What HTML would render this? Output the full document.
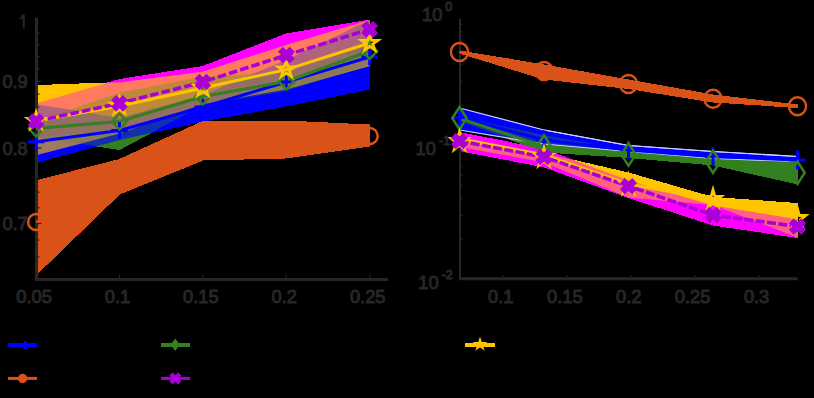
<!DOCTYPE html><html><head><meta charset="utf-8"><style>
html,body{margin:0;padding:0;background:#000;width:814px;height:398px;overflow:hidden}
svg{display:block}
text{font-family:"Liberation Sans",sans-serif;fill:#262626;stroke:#262626;stroke-width:1px;-webkit-font-smoothing:antialiased}
</style></head><body>
<svg width="814" height="398" viewBox="0 0 814 398">
<defs><filter id="op" x="0" y="0" width="814" height="398" filterUnits="userSpaceOnUse" color-interpolation-filters="sRGB">
<feColorMatrix type="matrix" values="1 0 0 0 0 0 1 0 0 0 0 0 1 0 0 0 0 0 255 0"/></filter></defs>
<rect width="814" height="398" fill="#000"/>

<g filter="url(#op)">
<polygon points="37.8,180.5 119.5,159.5 202.9,121.5 286.3,121.0 369.7,125.0 369.7,146.0 286.3,158.0 202.9,160.0 119.5,194.0 37.8,273.0" fill="#d95319" fill-opacity="1" />
<polygon points="37.8,103.0 119.5,79.5 202.9,66.5 286.3,34.0 369.7,20.0 369.7,50.0 286.3,80.0 202.9,109.0 119.5,130.0 37.8,137.0" fill="#ff00ff" fill-opacity="0.4" />
<polygon points="37.8,120.4 119.5,92.8 202.9,76.6 286.3,72.0 369.7,45.0 369.7,64.0 286.3,91.0 202.9,105.0 119.5,149.5 37.8,137.6" fill="#328020" fill-opacity="0.4" />
<polygon points="37.8,104.5 119.5,118.0 202.9,95.0 286.3,60.0 369.7,20.0 369.7,89.0 286.3,106.0 202.9,121.0 119.5,140.0 37.8,161.7" fill="#0000ff" fill-opacity="0.4" />
<polygon points="37.8,85.5 119.5,82.5 202.9,71.8 286.3,45.0 369.7,20.0 369.7,66.0 286.3,89.5 202.9,104.0 119.5,133.4 37.8,154.7" fill="#ffc400" fill-opacity="0.4" />
</g>
<path d="M36.5,17.7V279.5H388" fill="none" stroke="#262626" stroke-width="3"/>
<line x1="37" y1="274.4" x2="39.5" y2="274.4" stroke="#262626" stroke-width="1.2"/>
<line x1="37" y1="257.0" x2="39.5" y2="257.0" stroke="#262626" stroke-width="1.2"/>
<line x1="37" y1="240.1" x2="39.5" y2="240.1" stroke="#262626" stroke-width="1.2"/>
<line x1="37" y1="207.7" x2="39.5" y2="207.7" stroke="#262626" stroke-width="1.2"/>
<line x1="37" y1="192.2" x2="39.5" y2="192.2" stroke="#262626" stroke-width="1.2"/>
<line x1="37" y1="177.0" x2="39.5" y2="177.0" stroke="#262626" stroke-width="1.2"/>
<line x1="37" y1="162.3" x2="39.5" y2="162.3" stroke="#262626" stroke-width="1.2"/>
<line x1="37" y1="134.0" x2="39.5" y2="134.0" stroke="#262626" stroke-width="1.2"/>
<line x1="37" y1="120.3" x2="39.5" y2="120.3" stroke="#262626" stroke-width="1.2"/>
<line x1="37" y1="107.0" x2="39.5" y2="107.0" stroke="#262626" stroke-width="1.2"/>
<line x1="37" y1="94.0" x2="39.5" y2="94.0" stroke="#262626" stroke-width="1.2"/>
<line x1="37" y1="68.8" x2="39.5" y2="68.8" stroke="#262626" stroke-width="1.2"/>
<line x1="37" y1="56.6" x2="39.5" y2="56.6" stroke="#262626" stroke-width="1.2"/>
<line x1="37" y1="44.6" x2="39.5" y2="44.6" stroke="#262626" stroke-width="1.2"/>
<line x1="37" y1="32.9" x2="39.5" y2="32.9" stroke="#262626" stroke-width="1.2"/>
<line x1="37" y1="223.6" x2="41.5" y2="223.6" stroke="#262626" stroke-width="1.2"/>
<line x1="37" y1="148.0" x2="41.5" y2="148.0" stroke="#262626" stroke-width="1.2"/>
<line x1="37" y1="81.2" x2="41.5" y2="81.2" stroke="#262626" stroke-width="1.2"/>
<line x1="119.5" y1="278.5" x2="119.5" y2="275" stroke="#262626" stroke-width="1.2"/>
<line x1="202.9" y1="278.5" x2="202.9" y2="275" stroke="#262626" stroke-width="1.2"/>
<line x1="286.3" y1="278.5" x2="286.3" y2="275" stroke="#262626" stroke-width="1.2"/>
<line x1="369.7" y1="278.5" x2="369.7" y2="275" stroke="#262626" stroke-width="1.2"/>
<path d="M23.7,14.6V28.6M20.2,18.6C21.8,18.2 22.9,17 23.1,14.8" fill="none" stroke="#262626" stroke-width="2.1"/>
<text x="27.8" y="87.8" font-size="18.3" text-anchor="end">0.9</text>
<text x="27.8" y="154.6" font-size="18.3" text-anchor="end">0.8</text>
<text x="27.8" y="230.2" font-size="18.3" text-anchor="end">0.7</text>
<text x="34.1" y="303.3" font-size="18.3" text-anchor="middle">0.05</text>
<text x="117.5" y="303.3" font-size="18.3" text-anchor="middle">0.1</text>
<text x="200.9" y="303.3" font-size="18.3" text-anchor="middle">0.15</text>
<text x="284.3" y="303.3" font-size="18.3" text-anchor="middle">0.2</text>
<text x="367.7" y="303.3" font-size="18.3" text-anchor="middle">0.25</text>
<polyline points="36.1,222.0 119.5,177.0 202.9,141.0 286.3,140.0 369.7,136.0" fill="none" stroke="#d95319" stroke-width="2.5" stroke-linejoin="round"/>
<ellipse cx="36.1" cy="222.0" rx="8" ry="8" fill="none" stroke="#d95319" stroke-width="2.5"/>
<ellipse cx="119.5" cy="177.0" rx="8" ry="8" fill="none" stroke="#d95319" stroke-width="2.5"/>
<ellipse cx="202.9" cy="141.0" rx="8" ry="8" fill="none" stroke="#d95319" stroke-width="2.5"/>
<ellipse cx="286.3" cy="140.0" rx="8" ry="8" fill="none" stroke="#d95319" stroke-width="2.5"/>
<ellipse cx="369.7" cy="136.0" rx="8" ry="8" fill="none" stroke="#d95319" stroke-width="2.5"/>
<polyline points="36.1,141.8 119.5,130.5 202.9,107.0 286.3,82.0 369.7,57.0" fill="none" stroke="#0000ff" stroke-width="3" stroke-linejoin="round"/>
<polyline points="36.1,128.5 119.5,121.5 202.9,96.5 286.3,81.5 369.7,51.0" fill="none" stroke="#328020" stroke-width="3" stroke-linejoin="round"/>
<polyline points="36.1,121.0 119.5,106.0 202.9,88.0 286.3,69.6 369.7,43.0" fill="none" stroke="#ffc400" stroke-width="3" stroke-linejoin="round"/>
<polyline points="36.1,121.3 119.5,103.3 202.9,82.0 286.3,55.1 369.7,29.3" fill="none" stroke="#aa00d6" stroke-width="3.6" stroke-linejoin="round" stroke-dasharray="8.6,3.1"/>
<rect x="27.8" y="140.3" width="16.6" height="3.0" fill="#0000ff"/><rect x="34.6" y="133.5" width="3.0" height="16.6" fill="#0000ff"/>
<rect x="111.2" y="129.0" width="16.6" height="3.0" fill="#0000ff"/><rect x="118.0" y="122.2" width="3.0" height="16.6" fill="#0000ff"/>
<rect x="194.6" y="105.5" width="16.6" height="3.0" fill="#0000ff"/><rect x="201.4" y="98.7" width="3.0" height="16.6" fill="#0000ff"/>
<rect x="278.0" y="80.5" width="16.6" height="3.0" fill="#0000ff"/><rect x="284.8" y="73.7" width="3.0" height="16.6" fill="#0000ff"/>
<rect x="361.4" y="55.5" width="16.6" height="3.0" fill="#0000ff"/><rect x="368.2" y="48.7" width="3.0" height="16.6" fill="#0000ff"/>
<polygon points="36.1,120.5 43.5,128.5 36.1,136.5 28.7,128.5" fill="none" stroke="#328020" stroke-width="2.5"/>
<polygon points="119.5,113.5 126.9,121.5 119.5,129.5 112.1,121.5" fill="none" stroke="#328020" stroke-width="2.5"/>
<polygon points="202.9,88.5 210.3,96.5 202.9,104.5 195.5,96.5" fill="none" stroke="#328020" stroke-width="2.5"/>
<polygon points="286.3,73.5 293.7,81.5 286.3,89.5 278.9,81.5" fill="none" stroke="#328020" stroke-width="2.5"/>
<polygon points="369.7,43.0 377.1,51.0 369.7,59.0 362.3,51.0" fill="none" stroke="#328020" stroke-width="2.5"/>
<polygon points="36.1,112.4 38.0,118.3 44.3,118.3 39.2,122.0 41.2,128.0 36.1,124.3 31.0,128.0 33.0,122.0 27.9,118.3 34.2,118.3" fill="none" stroke="#ffc400" stroke-width="2.8" stroke-linejoin="miter"/>
<polygon points="119.5,97.4 121.4,103.3 127.7,103.3 122.6,107.0 124.6,113.0 119.5,109.3 114.4,113.0 116.4,107.0 111.3,103.3 117.6,103.3" fill="none" stroke="#ffc400" stroke-width="2.8" stroke-linejoin="miter"/>
<polygon points="202.9,79.4 204.8,85.3 211.1,85.3 206.0,89.0 208.0,95.0 202.9,91.3 197.8,95.0 199.8,89.0 194.7,85.3 201.0,85.3" fill="none" stroke="#ffc400" stroke-width="2.8" stroke-linejoin="miter"/>
<polygon points="286.3,61.0 288.2,66.9 294.5,66.9 289.4,70.6 291.4,76.6 286.3,72.9 281.2,76.6 283.2,70.6 278.1,66.9 284.4,66.9" fill="none" stroke="#ffc400" stroke-width="2.8" stroke-linejoin="miter"/>
<polygon points="369.7,34.4 371.6,40.3 377.9,40.3 372.8,44.0 374.8,50.0 369.7,46.3 364.6,50.0 366.6,44.0 361.5,40.3 367.8,40.3" fill="none" stroke="#ffc400" stroke-width="2.8" stroke-linejoin="miter"/>
<path d="M32.7,117.9L39.5,124.7M39.5,117.9L32.7,124.7" stroke="#aa00d6" stroke-width="7" stroke-linecap="square"/>
<path d="M116.1,99.9L122.9,106.7M122.9,99.9L116.1,106.7" stroke="#aa00d6" stroke-width="7" stroke-linecap="square"/>
<path d="M199.5,78.6L206.3,85.4M206.3,78.6L199.5,85.4" stroke="#aa00d6" stroke-width="7" stroke-linecap="square"/>
<path d="M282.9,51.7L289.7,58.5M289.7,51.7L282.9,58.5" stroke="#aa00d6" stroke-width="7" stroke-linecap="square"/>
<path d="M366.3,25.9L373.1,32.7M373.1,25.9L366.3,32.7" stroke="#aa00d6" stroke-width="7" stroke-linecap="square"/>
<g filter="url(#op)">
<polygon points="459.5,51.0 544.0,65.0 628.5,80.0 713.0,95.0 797.5,105.0 797.5,107.5 713.0,102.0 628.5,88.5 544.0,79.0 459.5,53.0" fill="#d95319" fill-opacity="1" />
<polygon points="459.5,132.4 544.0,149.4 628.5,180.5 713.0,205.5 797.5,219.5 797.5,237.5 713.0,225.0 628.5,197.5 544.0,166.8 459.5,150.6" fill="#ff00ff" fill-opacity="0.4" />
<polygon points="459.5,117.0 544.0,135.0 628.5,150.6 713.0,157.0 797.5,161.4 797.5,184.0 713.0,165.0 628.5,157.5 544.0,152.0 459.5,121.0" fill="#328020" fill-opacity="0.4" />
<polygon points="459.5,108.0 544.0,130.0 628.5,145.5 713.0,151.5 797.5,156.5 797.5,161.5 713.0,158.5 628.5,151.5 544.0,144.0 459.5,130.0" fill="#0000ff" fill-opacity="0.4" />
<polygon points="459.5,136.7 544.0,153.5 628.5,173.0 713.0,197.5 797.5,203.5 797.5,237.5 713.0,205.0 628.5,197.5 544.0,162.3 459.5,146.7" fill="#ffc400" fill-opacity="0.28" />
</g>
<polyline points="544.0,130.0 628.5,145.5 713.0,151.5 797.5,156.5" fill="none" stroke="#d0d0ff" stroke-width="1.2" stroke-linejoin="round"/>
<polyline points="459.5,108.0 544.0,130.0 628.5,145.5 713.0,151.5 797.5,156.5" fill="none" stroke="#d0d0ff" stroke-width="1.2" stroke-linejoin="round"/>
<polyline points="459.5,130.0 544.0,144.0 628.5,151.5 713.0,158.5 797.5,161.5" fill="none" stroke="#d0d0ff" stroke-width="1.2" stroke-linejoin="round"/>
<path d="M460,18.8V278.8H797.5" fill="none" stroke="#262626" stroke-width="2"/>
<line x1="459" y1="278.8" x2="797.5" y2="278.8" stroke="#262626" stroke-width="3"/>
<line x1="460" y1="238.9" x2="462.5" y2="238.9" stroke="#262626" stroke-width="1.2"/>
<line x1="460" y1="215.3" x2="462.5" y2="215.3" stroke="#262626" stroke-width="1.2"/>
<line x1="460" y1="198.5" x2="462.5" y2="198.5" stroke="#262626" stroke-width="1.2"/>
<line x1="460" y1="185.5" x2="462.5" y2="185.5" stroke="#262626" stroke-width="1.2"/>
<line x1="460" y1="174.9" x2="462.5" y2="174.9" stroke="#262626" stroke-width="1.2"/>
<line x1="460" y1="166.0" x2="462.5" y2="166.0" stroke="#262626" stroke-width="1.2"/>
<line x1="460" y1="158.2" x2="462.5" y2="158.2" stroke="#262626" stroke-width="1.2"/>
<line x1="460" y1="151.3" x2="462.5" y2="151.3" stroke="#262626" stroke-width="1.2"/>
<line x1="460" y1="104.9" x2="462.5" y2="104.9" stroke="#262626" stroke-width="1.2"/>
<line x1="460" y1="81.3" x2="462.5" y2="81.3" stroke="#262626" stroke-width="1.2"/>
<line x1="460" y1="64.5" x2="462.5" y2="64.5" stroke="#262626" stroke-width="1.2"/>
<line x1="460" y1="51.5" x2="462.5" y2="51.5" stroke="#262626" stroke-width="1.2"/>
<line x1="460" y1="40.9" x2="462.5" y2="40.9" stroke="#262626" stroke-width="1.2"/>
<line x1="460" y1="32.0" x2="462.5" y2="32.0" stroke="#262626" stroke-width="1.2"/>
<line x1="460" y1="24.2" x2="462.5" y2="24.2" stroke="#262626" stroke-width="1.2"/>
<line x1="502.8" y1="278" x2="502.8" y2="275" stroke="#262626" stroke-width="1.2"/>
<text x="500.8" y="303.3" font-size="18.3" text-anchor="middle">0.1</text>
<line x1="566.8" y1="278" x2="566.8" y2="275" stroke="#262626" stroke-width="1.2"/>
<text x="564.8" y="303.3" font-size="18.3" text-anchor="middle">0.15</text>
<line x1="630.7" y1="278" x2="630.7" y2="275" stroke="#262626" stroke-width="1.2"/>
<text x="628.7" y="303.3" font-size="18.3" text-anchor="middle">0.2</text>
<line x1="694.6" y1="278" x2="694.6" y2="275" stroke="#262626" stroke-width="1.2"/>
<text x="692.6" y="303.3" font-size="18.3" text-anchor="middle">0.25</text>
<line x1="758.6" y1="278" x2="758.6" y2="275" stroke="#262626" stroke-width="1.2"/>
<text x="756.6" y="303.3" font-size="18.3" text-anchor="middle">0.3</text>
<text x="452.3" y="21" font-size="18.3" text-anchor="end">10<tspan font-size="12.5" dx="3" dy="-10">0</tspan></text>
<text x="450" y="155.4" font-size="18.3" text-anchor="end">10<tspan font-size="12.5" dx="3" dy="-10">-1</tspan></text>
<text x="452.8" y="289" font-size="18.3" text-anchor="end">10<tspan font-size="12.5" dx="3" dy="-10">-2</tspan></text>
<polyline points="459.5,52.0 544.0,71.0 628.5,84.0 713.0,98.8 797.5,106.2" fill="none" stroke="#d95319" stroke-width="3" stroke-linejoin="round"/>
<ellipse cx="459.5" cy="52.0" rx="8.6" ry="9" fill="none" stroke="#d95319" stroke-width="2.4"/>
<ellipse cx="544.0" cy="71.0" rx="8.6" ry="9" fill="none" stroke="#d95319" stroke-width="2.4"/>
<ellipse cx="628.5" cy="84.0" rx="8.6" ry="9" fill="none" stroke="#d95319" stroke-width="2.4"/>
<ellipse cx="713.0" cy="98.8" rx="8.6" ry="9" fill="none" stroke="#d95319" stroke-width="2.4"/>
<ellipse cx="797.5" cy="106.2" rx="8.6" ry="9" fill="none" stroke="#d95319" stroke-width="2.4"/>
<polyline points="459.5,117.6 544.0,140.0 628.5,150.0 713.0,156.5 797.5,160.0" fill="none" stroke="#0000ff" stroke-width="3" stroke-linejoin="round"/>
<polyline points="459.5,118.3 544.0,146.5 628.5,154.6 713.0,161.7 797.5,172.7" fill="none" stroke="#328020" stroke-width="3" stroke-linejoin="round"/>
<polyline points="459.5,139.0 544.0,155.0 628.5,184.0 713.0,199.5 797.5,215.0" fill="none" stroke="#ffc400" stroke-width="3" stroke-linejoin="round"/>
<polyline points="459.5,141.0 544.0,157.0 628.5,186.1 713.0,215.0 797.5,226.5" fill="none" stroke="#aa00d6" stroke-width="3.6" stroke-linejoin="round" stroke-dasharray="9,2.4"/>
<rect x="451.5" y="116.1" width="16.0" height="3.0" fill="#0000ff"/><rect x="458.0" y="108.1" width="3.0" height="19.0" fill="#0000ff"/>
<rect x="536.0" y="138.5" width="16.0" height="3.0" fill="#0000ff"/><rect x="542.5" y="130.5" width="3.0" height="19.0" fill="#0000ff"/>
<rect x="620.5" y="148.5" width="16.0" height="3.0" fill="#0000ff"/><rect x="627.0" y="140.5" width="3.0" height="19.0" fill="#0000ff"/>
<rect x="705.0" y="155.0" width="16.0" height="3.0" fill="#0000ff"/><rect x="711.5" y="147.0" width="3.0" height="19.0" fill="#0000ff"/>
<rect x="789.5" y="158.5" width="16.0" height="3.0" fill="#0000ff"/><rect x="796.0" y="150.5" width="3.0" height="19.0" fill="#0000ff"/>
<polygon points="459.5,107.1 466.7,118.3 459.5,129.5 452.3,118.3" fill="none" stroke="#328020" stroke-width="2.5"/>
<polygon points="544.0,135.3 551.2,146.5 544.0,157.7 536.8,146.5" fill="none" stroke="#328020" stroke-width="2.5"/>
<polygon points="628.5,143.4 635.7,154.6 628.5,165.8 621.3,154.6" fill="none" stroke="#328020" stroke-width="2.5"/>
<polygon points="713.0,150.5 720.2,161.7 713.0,172.9 705.8,161.7" fill="none" stroke="#328020" stroke-width="2.5"/>
<polygon points="797.5,161.5 804.7,172.7 797.5,183.9 790.3,172.7" fill="none" stroke="#328020" stroke-width="2.5"/>
<polygon points="459.5,131.9 461.4,138.5 467.7,138.5 462.6,142.6 464.6,149.3 459.5,145.2 454.4,149.3 456.4,142.6 451.3,138.5 457.6,138.5" fill="none" stroke="#ffc400" stroke-width="2.8" stroke-linejoin="miter"/>
<polygon points="544.0,147.9 545.9,154.5 552.2,154.5 547.1,158.6 549.1,165.3 544.0,161.2 538.9,165.3 540.9,158.6 535.8,154.5 542.1,154.5" fill="none" stroke="#ffc400" stroke-width="2.8" stroke-linejoin="miter"/>
<polygon points="628.5,175.4 630.4,182.0 636.7,182.0 631.6,186.1 633.6,192.8 628.5,188.7 623.4,192.8 625.4,186.1 620.3,182.0 626.6,182.0" fill="none" stroke="#ffc400" stroke-width="2.8" stroke-linejoin="miter"/>
<polygon points="713.0,189.9 714.9,196.5 721.2,196.5 716.1,200.6 718.1,207.3 713.0,203.2 707.9,207.3 709.9,200.6 704.8,196.5 711.1,196.5" fill="none" stroke="#ffc400" stroke-width="2.8" stroke-linejoin="miter"/>
<polygon points="797.5,208.9 799.4,215.5 805.7,215.5 800.6,219.6 802.6,226.3 797.5,222.2 792.4,226.3 794.4,219.6 789.3,215.5 795.6,215.5" fill="none" stroke="#ffc400" stroke-width="2.8" stroke-linejoin="miter"/>
<path d="M455.9,137.8L463.1,144.2M463.1,137.8L455.9,144.2" stroke="#aa00d6" stroke-width="7" stroke-linecap="square"/>
<path d="M540.4,153.8L547.6,160.2M547.6,153.8L540.4,160.2" stroke="#aa00d6" stroke-width="7" stroke-linecap="square"/>
<path d="M624.9,182.9L632.1,189.3M632.1,182.9L624.9,189.3" stroke="#aa00d6" stroke-width="7" stroke-linecap="square"/>
<path d="M709.4,211.8L716.6,218.2M716.6,211.8L709.4,218.2" stroke="#aa00d6" stroke-width="7" stroke-linecap="square"/>
<path d="M793.9,223.3L801.1,229.7M801.1,223.3L793.9,229.7" stroke="#aa00d6" stroke-width="7" stroke-linecap="square"/>
<line x1="8" y1="345" x2="37" y2="345" stroke="#0000ff" stroke-width="4"/>
<rect x="24" y="341" width="3" height="8" fill="#0000ff"/>
<line x1="8" y1="378.4" x2="37" y2="378.4" stroke="#d95319" stroke-width="3"/>
<circle cx="22.6" cy="378.5" r="4.7" fill="#d95319"/>
<line x1="161" y1="345" x2="190" y2="345" stroke="#328020" stroke-width="4"/>
<polygon points="175.2,338.5 179.8,344.8 175.2,351 170.6,344.8" fill="#328020"/>
<line x1="161" y1="378.4" x2="190" y2="378.4" stroke="#aa00d6" stroke-width="3"/>
<path d="M172.5,375.6L178.1,381.2M178.1,375.6L172.5,381.2" stroke="#aa00d6" stroke-width="4.5" stroke-linecap="square"/>
<line x1="465" y1="345" x2="495" y2="345" stroke="#ffc400" stroke-width="4"/>
<polygon points="480.0,339.0 481.2,342.7 485.0,342.7 481.9,344.9 483.1,348.6 480.0,346.3 476.9,348.6 478.1,344.9 475.0,342.7 478.8,342.7" fill="#ffc400" stroke="#ffc400" stroke-width="1.6" stroke-linejoin="miter"/>
</svg></body></html>
